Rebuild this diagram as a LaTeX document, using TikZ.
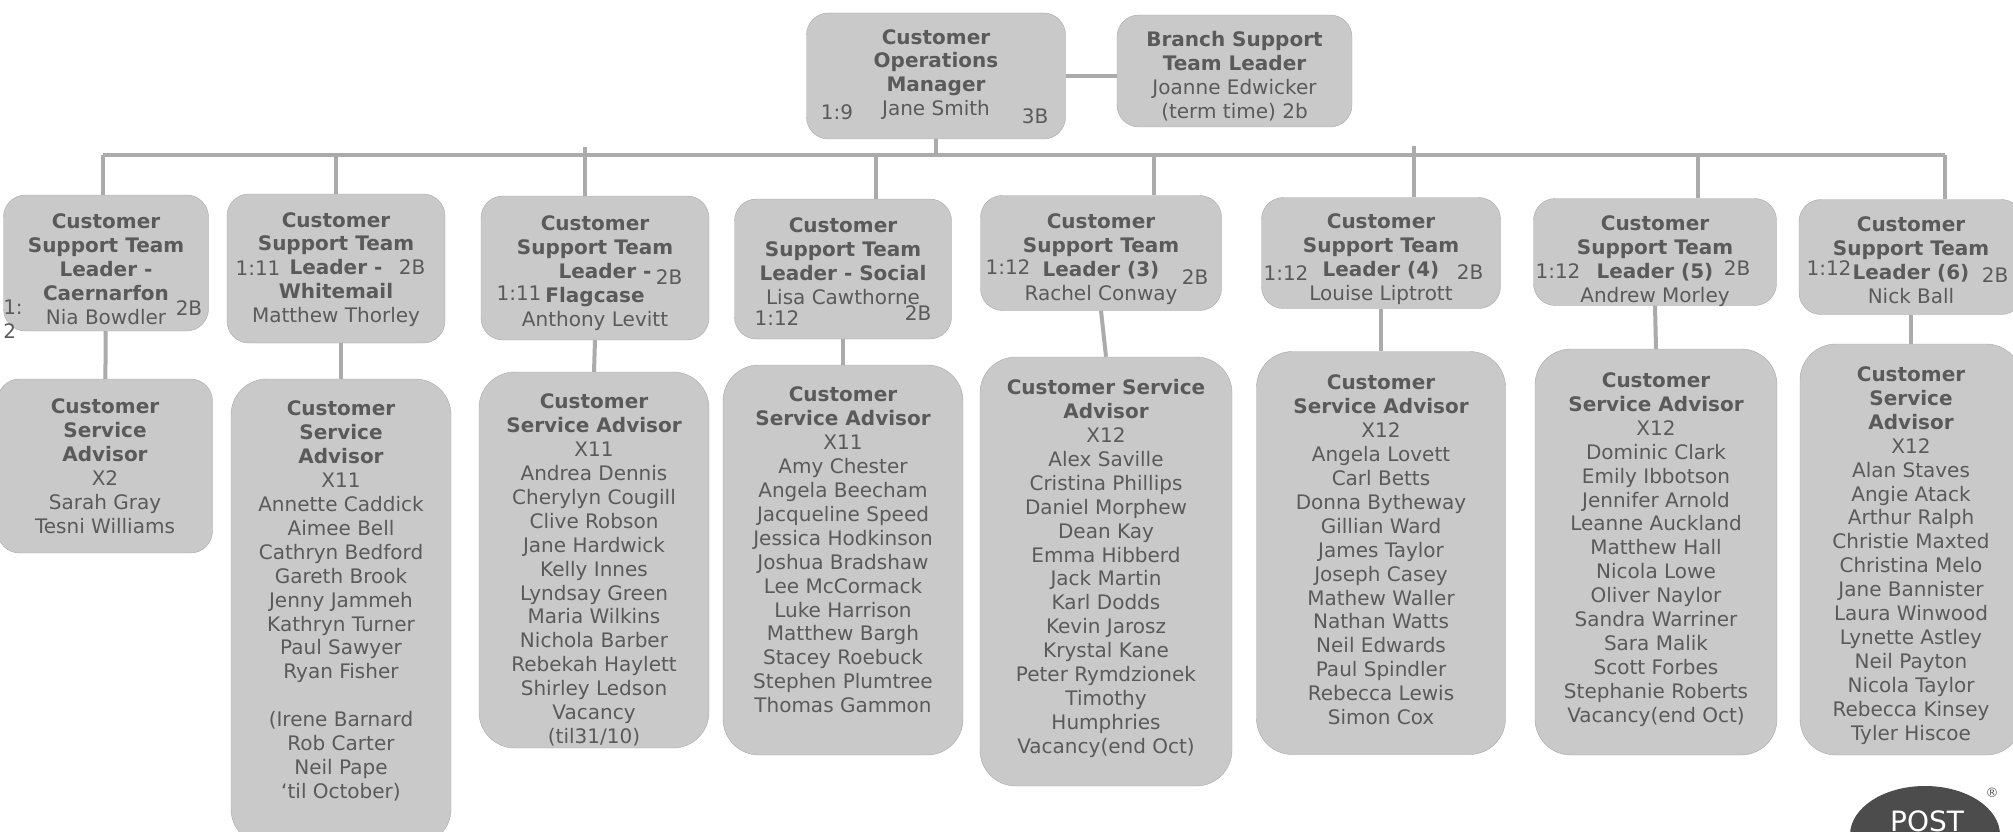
\documentclass[tikz,border=0pt]{standalone}
\usepackage{fontspec}
\setmainfont{DejaVu Sans}
\definecolor{boxfill}{HTML}{C9C9C9}
\definecolor{boxline}{HTML}{A8A8A8}
\definecolor{boxtext}{HTML}{5A5A5A}
\definecolor{linkgrey}{HTML}{ABABAB}
\tikzset{
  box/.style={draw=boxline, fill=boxfill, rounded corners=22pt, inner sep=0pt},
  bigbox/.style={box, rounded corners=36pt},
  txt/.style={text=boxtext, inner sep=0pt, align=center, font=\fontsize{20}{23.9}\selectfont},
  tag/.style={txt, align=left},
  link/.style={draw=linkgrey, line width=4pt}
}
\begin{document}
\begin{tikzpicture}[x=1pt, y=-1pt]
  \useasboundingbox (0,0) rectangle (2013,832);
  \clip (0,0) rectangle (2013,832);
  \coordinate (busl) at (103,155);
  \coordinate (busr) at (1945,155);
  \coordinate (bus1) at (103,155);
  \coordinate (bus2) at (336,155);
  \coordinate (bus3) at (585,147);
  \coordinate (bus4) at (876,155);
  \coordinate (bus5) at (1154,155);
  \coordinate (bus6) at (1414,146);
  \coordinate (bus7) at (1698,155);
  \coordinate (bus8) at (1945,155);

  \node[box, minimum width=259pt, minimum height=126pt,
    label={[txt, yshift=1.5pt]center:{\textbf{Customer}\\\textbf{Operations}\\\textbf{Manager}\\Jane Smith}}] (mgr) at (936,76) {};
  \node[box, minimum width=235pt, minimum height=112pt,
    label={[txt, yshift=-5pt]center:{\textbf{Branch Support}\\\textbf{Team Leader}\\Joanne Edwicker\\(term time) 2b}}] (branch) at (1234.5,71) {};

  \node[box, minimum width=205pt, minimum height=136pt,
    label={[txt, yshift=-6pt]center:{\textbf{Customer}\\\textbf{Support Team}\\\textbf{Leader -}\\\textbf{Caernarfon}\\Nia Bowdler}}] (lead1) at (106,263) {};
  \node[box, minimum width=218pt, minimum height=149pt,
    label={[txt, yshift=-1pt]center:{\textbf{Customer}\\\textbf{Support Team}\\\textbf{Leader -}\\\textbf{Whitemail}\\Matthew Thorley}}] (lead2) at (336,268.5) {};
  \node[box, minimum width=228pt, minimum height=144pt,
    label={[txt, yshift=-5pt]center:{\textbf{Customer}\\\textbf{Support Team}\\\quad\textbf{Leader -}\\\textbf{Flagcase}\\Anthony Levitt}}] (lead3) at (595,268) {};
  \node[box, minimum width=217pt, minimum height=140pt,
    label={[txt, yshift=-4pt]center:{\textbf{Customer}\\\textbf{Support Team}\\\textbf{Leader - Social}\\Lisa Cawthorne\\\vphantom{1:12}}}] (lead4) at (843,269) {};
  \node[box, minimum width=241pt, minimum height=115pt,
    label={[txt, yshift=-6pt]center:{\textbf{Customer}\\\textbf{Support Team}\\\textbf{Leader (3)}\\Rachel Conway}}] (lead5) at (1101,253) {};
  \node[box, minimum width=239pt, minimum height=111pt,
    label={[txt, yshift=-6pt]center:{\textbf{Customer}\\\textbf{Support Team}\\\textbf{Leader (4)}\\Louise Liptrott}}] (lead6) at (1381,253) {};
  \node[box, minimum width=243pt, minimum height=107pt,
    label={[txt, yshift=-9pt]center:{\textbf{Customer}\\\textbf{Support Team}\\\textbf{Leader (5)}\\Andrew Morley}}] (lead7) at (1655,252) {};
  \node[box, minimum width=224pt, minimum height=115pt,
    label={[txt, yshift=-3.5pt]center:{\textbf{Customer}\\\textbf{Support Team}\\\textbf{Leader (6)}\\Nick Ball}}] (lead8) at (1911,257) {};

  \node[box, minimum width=215pt, minimum height=174pt,
    label={[txt]center:{\textbf{Customer}\\\textbf{Service}\\\textbf{Advisor}\\X2\\Sarah Gray\\Tesni Williams}}] (adv1) at (105,466) {};
  \node[bigbox, minimum width=220pt, minimum height=466pt,
    label={[txt, yshift=11pt]center:{\textbf{Customer}\\\textbf{Service}\\\textbf{Advisor}\\X11\\Annette Caddick\\Aimee Bell\\Cathryn Bedford\\Gareth Brook\\Jenny Jammeh\\Kathryn Turner\\Paul Sawyer\\Ryan Fisher\\[23.9pt](Irene Barnard\\Rob Carter\\Neil Pape\\‘til October)}}] (adv2) at (341,612) {};
  \node[bigbox, minimum width=230pt, minimum height=376pt,
    label={[txt, yshift=-10pt]center:{\textbf{Customer}\\\textbf{Service Advisor}\\X11\\Andrea Dennis\\Cherylyn Cougill\\Clive Robson\\Jane Hardwick\\Kelly Innes\\Lyndsay Green\\Maria Wilkins\\Nichola Barber\\Rebekah Haylett\\Shirley Ledson\\Vacancy\\(til31/10)}}] (adv3) at (594,560) {};
  \node[bigbox, minimum width=240pt, minimum height=390pt,
    label={[txt, yshift=10pt]center:{\textbf{Customer}\\\textbf{Service Advisor}\\X11\\Amy Chester\\Angela Beecham\\Jacqueline Speed\\Jessica Hodkinson\\Joshua Bradshaw\\Lee McCormack\\Luke Harrison\\Matthew Bargh\\Stacey Roebuck\\Stephen Plumtree\\Thomas Gammon}}] (adv4) at (843,560) {};
  \node[bigbox, minimum width=252pt, minimum height=429pt,
    label={[txt, yshift=3pt]center:{\textbf{Customer Service}\\\textbf{Advisor}\\X12\\Alex Saville\\Cristina Phillips\\Daniel Morphew\\Dean Kay\\Emma Hibberd\\Jack Martin\\Karl Dodds\\Kevin Jarosz\\Krystal Kane\\Peter Rymdzionek\\Timothy\\Humphries\\Vacancy(end Oct)}}] (adv5) at (1106,571.5) {};
  \node[bigbox, minimum width=249pt, minimum height=403pt,
    label={[txt, yshift=3pt]center:{\textbf{Customer}\\\textbf{Service Advisor}\\X12\\Angela Lovett\\Carl Betts\\Donna Bytheway\\Gillian Ward\\James Taylor\\Joseph Casey\\Mathew Waller\\Nathan Watts\\Neil Edwards\\Paul Spindler\\Rebecca Lewis\\Simon Cox}}] (adv6) at (1381,553) {};
  \node[bigbox, minimum width=242pt, minimum height=406pt,
    label={[txt, yshift=2.5pt]center:{\textbf{Customer}\\\textbf{Service Advisor}\\X12\\Dominic Clark\\Emily Ibbotson\\Jennifer Arnold\\Leanne Auckland\\Matthew Hall\\Nicola Lowe\\Oliver Naylor\\Sandra Warriner\\Sara Malik\\Scott Forbes\\Stephanie Roberts\\Vacancy(end Oct)}}] (adv7) at (1656,552) {};
  \node[bigbox, minimum width=222pt, minimum height=411pt,
    label={[txt, yshift=-6pt]center:{\textbf{Customer}\\\textbf{Service}\\\textbf{Advisor}\\X12\\Alan Staves\\Angie Atack\\Arthur Ralph\\Christie Maxted\\Christina Melo\\Jane Bannister\\Laura Winwood\\Lynette Astley\\Neil Payton\\Nicola Taylor\\Rebecca Kinsey\\Tyler Hiscoe}}] (adv8) at (1911,549.5) {};

  \node[tag] (ratio0) at (837,112) {1:9};
  \node[tag] (grade0) at (1035,116) {3B};
  \node[tag] (ratio1) at (13,319) {1:\\2};
  \node[tag] (grade1) at (189,308) {2B};
  \node[tag] (ratio2) at (258,268) {1:11};
  \node[tag] (grade2) at (412,267) {2B};
  \node[tag] (ratio3) at (519,293) {1:11};
  \node[tag] (grade3) at (669,277) {2B};
  \node[tag] (ratio4) at (777,318) {1:12};
  \node[tag] (grade4) at (918,313) {2B};
  \node[tag] (ratio5) at (1008,267) {1:12};
  \node[tag] (grade5) at (1195,277) {2B};
  \node[tag] (ratio6) at (1286,273) {1:12};
  \node[tag] (grade6) at (1470,272) {2B};
  \node[tag] (ratio7) at (1558,271) {1:12};
  \node[tag] (grade7) at (1737,268) {2B};
  \node[tag] (ratio8) at (1829,268) {1:12};
  \node[tag] (grade8) at (1995,275) {2B};

  \draw[link] (mgr.east) -- (mgr.east -| branch.west);
  \draw[link] (mgr.south) -- (mgr.south |- busl);
  \draw[link] (busl) -- (busr);
  \draw[link] (bus1) -- (bus1 |- lead1.north);
  \draw[link] (bus2) -- (lead2.north);
  \draw[link] (bus3) -- (bus3 |- lead3.north);
  \draw[link] (bus4) -- (bus4 |- lead4.north);
  \draw[link] (bus5) -- (bus5 |- lead5.north);
  \draw[link] (bus6) -- (bus6 |- lead6.north);
  \draw[link] (bus7) -- (bus7 |- lead7.north);
  \draw[link] (bus8) -- (bus8 |- lead8.north);
  \draw[link] (lead1) -- (adv1);
  \draw[link] (adv2.north |- lead2.south) -- (adv2.north);
  \draw[link] (lead3.south) -- (adv3.north);
  \draw[link] (lead4.south) -- (adv4.north);
  \draw[link] (lead5.south) -- (adv5.north);
  \draw[link] (lead6.south) -- (adv6.north);
  \draw[link] (lead7.south) -- (adv7.north);
  \draw[link] (lead8.south) -- (adv8.north);

  \fill[boxtext!85!black] (1925,835) ellipse (75pt and 49pt);
  \node[text=white, inner sep=0pt, anchor=base, font=\fontsize{28}{28}\selectfont] (postword) at (1927,831) {POST};
  \node[text=boxtext, inner sep=0pt, font=\fontsize{13}{13}\selectfont] (regmark) at (1992,793) {®};
\end{tikzpicture}
\end{document}
